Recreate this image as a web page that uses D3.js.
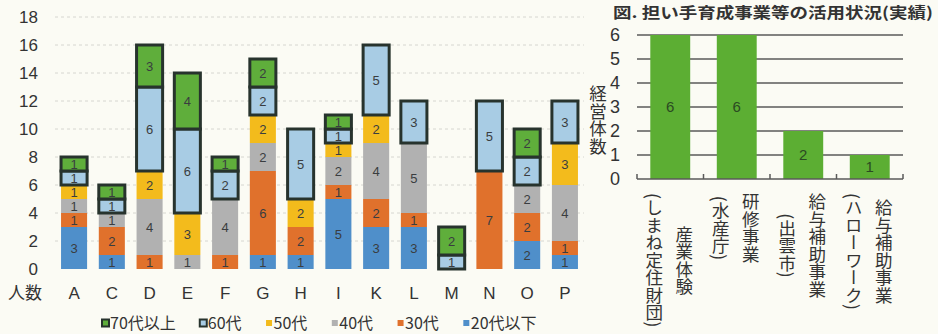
<!DOCTYPE html>
<html><head><meta charset="utf-8">
<script src="https://cdn.jsdelivr.net/npm/d3@7"></script>
<style>
html,body{margin:0;padding:0;background:#fbfbf4;}
svg{display:block;}
text{font-family:"Liberation Sans","Noto Sans CJK JP",sans-serif;}
.cjk{font-family:"Noto Sans CJK JP",sans-serif;}
</style></head><body>
<svg id="c" width="938" height="334"></svg>
<script>
// ---- left chart data ----
const categories = ["A","C","D","E","F","G","H","I","K","L","M","N","O","P"];
const age20 = [3,1,0,0,0,1,1,5,3,3,0,0,2,1];
const age30 = [1,2,1,0,1,6,2,1,2,1,0,7,2,1];
const age40 = [1,1,4,1,4,2,0,2,4,5,0,0,2,4];
const age50 = [1,0,2,3,0,2,2,1,2,0,0,0,0,3];
const age60 = [1,1,6,6,2,2,5,1,5,3,1,5,2,3];
const age70 = [1,1,3,4,1,2,0,1,0,0,2,0,2,0];
const seriesNames = ["20代以下","30代","40代","50代","60代","70代以上"];
const legendOrder = ["70代以上","60代","50代","40代","30代","20代以下"];
const leftTicks = [0,2,4,6,8,10,12,14,16,18];
const leftAxisLabel = "人数";

// ---- right chart data ----
const programs = ["産業体験\n(しまね定住財団)","研修事業\n(水産庁)","給与補助事業\n(出雲市)","給与補助事業\n(ハローワーク)"];
const programCounts = [6,6,2,1];
const rightTicks = [0,1,2,3,4,5,6];
const rightTitle = "図. 担い手育成事業等の活用状況(実績)";
const rightAxisLabel = "経営体数";

const colors = {"20代以下":"#4f8fca","30代":"#e0712c","40代":"#b1b1b1","50代":"#f3bb1c","60代":"#a8cce4","70代以上":"#5fae3b"};
const outlined = new Set(["60代","70代以上"]);
const borderColor = "#27332d";

const svg = d3.select("#c");

// ===== LEFT CHART =====
const seriesVals = [age20,age30,age40,age50,age60,age70];
const rows = categories.map((c,i)=>{const r={cat:c}; seriesNames.forEach((s,k)=>r[s]=seriesVals[k][i]); return r;});
const stack = d3.stack().keys(seriesNames)(rows);

const x = d3.scaleBand().domain(categories).range([55,584]).paddingInner(0.31).paddingOuter(0.16);
const y = d3.scaleLinear().domain([0,18]).range([269,17]);

// gridlines
svg.append("g").selectAll("line").data(leftTicks.filter(d=>d>0)).join("line")
  .attr("x1",55).attr("x2",584).attr("y1",d=>y(d)).attr("y2",d=>y(d))
  .attr("stroke","#d6d6d0").attr("stroke-width",1).attr("stroke-dasharray","3,3");

// y tick labels
svg.append("g").selectAll("text").data(leftTicks).join("text")
  .attr("x",38).attr("y",d=>y(d)).attr("dy","0.36em").attr("text-anchor","end")
  .attr("font-size",17).attr("fill","#333").text(d=>d);

// bars
const layers = svg.append("g").selectAll("g").data(stack).join("g");
layers.each(function(layer){
  const name = layer.key;
  const g = d3.select(this);
  const segs = layer.filter(d=>d[1]-d[0]>0);
  g.selectAll("rect").data(segs).join("rect")
    .attr("x",d=>x(d.data.cat)).attr("width",x.bandwidth())
    .attr("y",d=>y(d[1])).attr("height",d=>y(d[0])-y(d[1]))
    .attr("fill",colors[name])
    .attr("stroke",outlined.has(name)?borderColor:"none")
    .attr("stroke-width",outlined.has(name)?3:0);
});
// segment labels
layers.each(function(layer){
  const segs = layer.filter(d=>d[1]-d[0]>0);
  d3.select(this).selectAll("text").data(segs).join("text")
    .attr("x",d=>x(d.data.cat)+x.bandwidth()/2)
    .attr("y",d=>(y(d[0])+y(d[1]))/2).attr("dy","0.36em")
    .attr("text-anchor","middle").attr("font-size",13).attr("fill","#3a3d40")
    .text(d=>d[1]-d[0]);
});

// x labels
svg.append("g").selectAll("text").data(categories).join("text")
  .attr("x",d=>x(d)+x.bandwidth()/2).attr("y",299).attr("text-anchor","middle")
  .attr("font-size",17).attr("fill","#333").text(d=>d);
svg.append("text").attr("class","cjk").attr("x",25).attr("y",299).attr("text-anchor","middle")
  .attr("font-size",17).attr("fill","#333").text(leftAxisLabel);

// legend
const leg = svg.append("g");
let lx = 102;
legendOrder.forEach(name=>{
  const big = outlined.has(name);
  const s = big?7:6;
  leg.append("rect").attr("x",lx+(big?0:0.5)).attr("y",323-s/2).attr("width",s).attr("height",s)
    .attr("fill",colors[name]).attr("stroke",big?borderColor:"none").attr("stroke-width",big?2:0);
  const t = leg.append("text").attr("class","cjk").attr("x",lx+8).attr("y",323).attr("dy","0.36em")
    .attr("font-size",16).attr("fill","#333").text(name);
  lx += 8 + t.node().getComputedTextLength() + 24;
});

// ===== RIGHT CHART =====
const x2 = d3.scaleBand().domain(programs).range([637,903]).paddingInner(0.4).paddingOuter(0.2);
const y2 = d3.scaleLinear().domain([0,6]).range([179,35]);

svg.append("g").selectAll("line").data(rightTicks.filter(d=>d>0)).join("line")
  .attr("x1",637).attr("x2",903).attr("y1",d=>y2(d)).attr("y2",d=>y2(d))
  .attr("stroke","#5a5a5a").attr("stroke-width",1.5);

svg.append("g").selectAll("rect").data(programs).join("rect")
  .attr("x",d=>x2(d)).attr("width",x2.bandwidth())
  .attr("y",(d,i)=>y2(programCounts[i])).attr("height",(d,i)=>y2(0)-y2(programCounts[i]))
  .attr("fill","#5cae33");

svg.append("g").selectAll("text").data(programs).join("text")
  .attr("x",d=>x2(d)+x2.bandwidth()/2).attr("y",(d,i)=>y2(programCounts[i]/2)).attr("dy","0.36em")
  .attr("text-anchor","middle").attr("font-size",15).attr("fill","#2b4a22")
  .text((d,i)=>programCounts[i]);

// axis line + ticks
svg.append("line").attr("x1",637).attr("x2",903).attr("y1",179).attr("y2",179)
  .attr("stroke","#5a5a5a").attr("stroke-width",1.5);
const bounds = [637].concat(programs.map(p=>x2(p)+x2.bandwidth()+x2.step()*0.2));
svg.append("g").selectAll("line").data(bounds).join("line")
  .attr("x1",d=>d).attr("x2",d=>d).attr("y1",179).attr("y2",174)
  .attr("stroke","#5a5a5a").attr("stroke-width",1.5);

// y labels
svg.append("g").selectAll("text").data(rightTicks).join("text")
  .attr("x",615).attr("y",d=>y2(d)).attr("dy","0.36em").attr("text-anchor","middle")
  .attr("font-size",18).attr("fill","#333").text(d=>d);

// y axis title (vertical)
svg.append("text").attr("class","cjk").attr("x",598).attr("y",120)
  .attr("text-anchor","middle").style("writing-mode","vertical-rl")
  .attr("font-size",17.5).attr("fill","#333").text(rightAxisLabel);

// x labels (vertical, two columns each)
const labG = svg.append("g");
programs.forEach(p=>{
  const lines = p.split("\n");
  const cx = x2(p)+x2.bandwidth()/2 - 1;
  const ts = lines.map((ln,i)=>labG.append("text").attr("class","cjk")
    .attr("x",cx + (lines.length-1)/2*30 - i*30)
    .attr("text-anchor","middle").style("writing-mode","vertical-rl")
    .attr("font-size",17.5).attr("fill","#333").text(ln));
  const maxLen = d3.max(ts,t=>t.node().getComputedTextLength());
  ts.forEach(t=>t.attr("y",193+maxLen/2));
});

// title
svg.append("text").attr("class","cjk").attr("x",613).attr("y",18)
  .attr("font-size",15).attr("font-weight","bold").attr("fill","#333")
  .attr("textLength",320).attr("lengthAdjust","spacingAndGlyphs").text(rightTitle);
</script>
</body></html>
